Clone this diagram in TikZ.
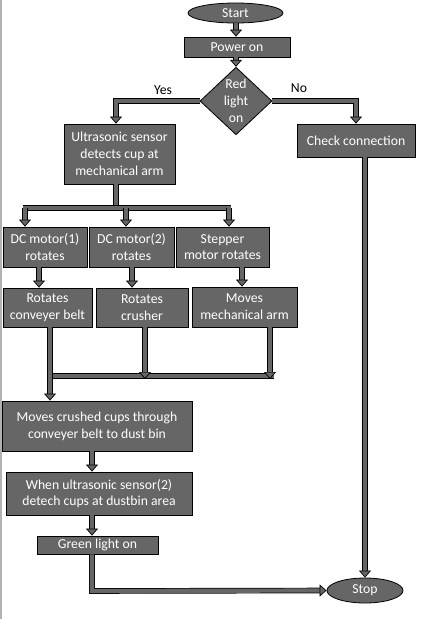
\documentclass[tikz,border=0pt]{standalone}
\usepackage{fontspec}
\setmainfont{Carlito}
\usetikzlibrary{shapes.geometric,arrows.meta}
\definecolor{boxgray}{HTML}{666666}
\tikzset{
  box/.style={draw=black, line width=0.8pt, fill=boxgray, text=white, align=center, inner sep=0pt,
    font=\fontsize{13.7}{16.8}\selectfont},
  oval/.style={box, ellipse},
  flow/.style={draw=black, line width=0.7pt, double=boxgray, double distance=4.2pt},
  flowarr/.style={flow, -{Triangle[width=12pt,length=7pt,fill=boxgray,line width=0.7pt]}},
  lbl/.style={font=\fontsize{13.7}{16.8}\selectfont, text=black}
}
\begin{document}
\begin{tikzpicture}[x=1pt,y=-1pt]
\useasboundingbox (0,0) rectangle (427,619);
\draw[gray!60, line width=2pt] (1,0) -- (1,619);
% nodes
\node[oval, minimum width=95pt, minimum height=20pt] (start) at (235.5,13) {Start};
\node[box, minimum width=106pt, minimum height=20pt] (power) at (237,47) {Power on};
\node[box, diamond, minimum width=72pt, minimum height=59pt] (dia) at (236,101) {Red\\light\\on};
\node[box, minimum width=111pt, minimum height=60pt] (us) at (119.5,154) {Ultrasonic sensor\\detects cup at\\mechanical arm};
\node[box, minimum width=118pt, minimum height=33pt] (cc) at (356,140.5) {Check connection};
\node[box, minimum width=84pt, minimum height=40pt] (dc1) at (45,247) {DC motor(1)\\rotates};
\node[box, minimum width=85pt, minimum height=40pt] (dc2) at (131.5,247) {DC motor(2)\\rotates};
\node[box, minimum width=93pt, minimum height=40pt] (stp) at (222.5,247) {Stepper\\motor rotates};
\node[box, minimum width=89pt, minimum height=39pt] (rc) at (47.5,307.5) {Rotates\\conveyer belt};
\node[box, minimum width=92pt, minimum height=39pt] (rcr) at (142,307.5) {Rotates\\crusher};
\node[box, minimum width=105pt, minimum height=40pt] (mma) at (244.5,307) {Moves\\mechanical arm};
\node[box, minimum width=190pt, minimum height=50pt] (mc) at (97,426) {Moves crushed cups through\\conveyer belt to dust bin};
\node[box, minimum width=186pt, minimum height=43pt] (wu) at (99,493.5) {When ultrasonic sensor(2)\\detech cups at dustbin area};
\node[box, minimum width=121pt, minimum height=18pt] (gl) at (97.5,545) {Green light on};
\node[oval, minimum width=76pt, minimum height=25pt] (stop) at (365,590.5) {Stop};
\node[lbl] (yes) at (163,90) {Yes};
\node[lbl] (no) at (299,88) {No};
% helper coordinates
\coordinate (usx) at (116,0);
\coordinate (b1) at (116,208);
\coordinate (bl) at (25,208);
\coordinate (bm) at (126,208);
\coordinate (br) at (229,208);
\coordinate (x39) at (39,0);
\coordinate (x132) at (132,0);
\coordinate (x242) at (242,0);
\coordinate (x145) at (145,0);
\coordinate (x270) at (270,0);
\coordinate (x50) at (50,0);
\coordinate (x92) at (92,0);
\coordinate (b2l) at (52,376);
\coordinate (b2r) at (274,376);
\coordinate (g1) at (92,591);
% connectors
\draw[flowarr] (start.south -| dia.north) -- (power.north -| dia.north);
\draw[flowarr] (power.south -| dia.north) -- (dia.north);
\draw[flowarr] (dia.west) -| (us.north -| usx);
\draw[flowarr] (dia.east) -| (cc.north);
\draw[flowarr] (cc.south -| stop.north) -- (stop.north);
\draw[flow] (us.south -| usx) -- (b1);
\draw[flow] ([xshift=-2pt]bl) -- ([xshift=2pt]br);
\draw[flowarr] (bl) -- (bl |- dc1.north);
\draw[flowarr] (bm) -- (bm |- dc2.north);
\draw[flowarr] (br) -- (br |- stp.north);
\draw[flowarr] (dc1.south -| x39) -- (rc.north -| x39);
\draw[flowarr] (dc2.south -| x132) -- (rcr.north -| x132);
\draw[flowarr] (stp.south -| x242) -- (mma.north -| x242);
\draw[flow] (b2l) -- (b2r);
\draw[flowarr] (rcr.south -| x145) -- ([yshift=-3pt]b2l -| x145);
\draw[flowarr] (mma.south -| x270) -- ([yshift=-3pt]b2l -| x270);
\draw[flowarr] (rc.south -| x50) -- (mc.north -| x50);
\draw[flowarr] (mc.south -| x92) -- (wu.north -| x92);
\draw[flowarr] (wu.south -| x92) -- (gl.north -| x92);
\draw[flowarr] (gl.south -| x92) -- (g1) -- (stop.west);
\end{tikzpicture}
\end{document}
